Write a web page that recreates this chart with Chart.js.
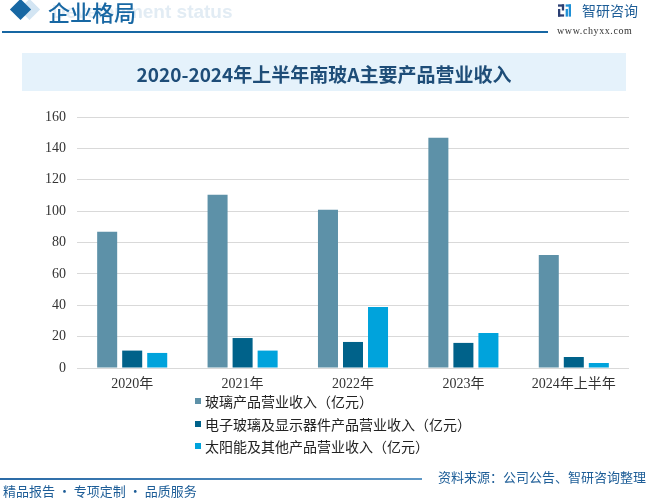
<!DOCTYPE html>
<html>
<head>
<meta charset="utf-8">
<script src="https://cdn.jsdelivr.net/npm/chart.js@4"></script>
<style>
  html, body { margin: 0; padding: 0; background: #fff; }
  body { width: 648px; height: 499px; position: relative; overflow: hidden; font-family: "Noto Sans CJK SC", sans-serif; }
  #chart { position: absolute; left: 0; top: 0; }
  .abs { position: absolute; white-space: nowrap; }
  #ghost { left: 52px; top: 1px; font: bold 19px "Liberation Sans", Arial, sans-serif; color: #e2ecf4; }
  #head { left: 48px; top: -5px; font-size: 22px; font-weight: 500; color: #1767a3; }
  #diamond { left: 13px; top: 2px; width: 15px; height: 15px; background: #1767a3; transform: rotate(45deg); }
  #diamond2 { left: 22px; top: 2px; width: 15px; height: 15px; background: #d3e5f3; transform: rotate(45deg); }
  #headline { left: 2px; top: 31px; width: 546px; height: 2px; background: #1767a3; }
  #logoText { left: 582px; top: 0px; font-size: 14px; color: #1d5d97; }
  #www { left: 557px; top: 25px; font: 10px "Liberation Serif", serif; color: #333; letter-spacing: 0.6px; }
  #titleBox { left: 22px; top: 53px; width: 604px; height: 38px; background: #e5f2fb; }
  #title { left: 0; width: 648px; top: 60px; text-align: center; font-size: 19px; font-weight: bold; color: #1e4d78; }
  #legend { left: 195px; top: 391px; font-size: 14px; color: #222; }
  .item { height: 22.5px; line-height: 20px; }
  .sw { display: inline-block; width: 6px; height: 6px; margin-right: 4px; vertical-align: 3px; }
  #footline { left: 0; top: 478px; width: 422px; height: 2px; background: linear-gradient(to right, #2a6aa6, #5f98c6); }
  #source { right: 2px; top: 467px; font-size: 13px; color: #1d5d97; }
  #slogan { left: 3px; top: 481px; font-size: 13px; color: #1d5d97; }
</style>
</head>
<body>
<canvas id="chart" width="648" height="499"></canvas>

<div class="abs" id="ghost">Development status</div>
<div class="abs" id="diamond2"></div>
<div class="abs" id="diamond"></div>
<div class="abs" id="head">企业格局</div>
<div class="abs" id="headline"></div>
<svg class="abs" style="left:558px;top:4px" width="13" height="13" viewBox="0 0 17 16">
  <rect x="0" y="0" width="8" height="3" fill="#2b3f73"/>
  <rect x="5" y="0" width="3" height="8" fill="#2b3f73"/>
  <rect x="0" y="6" width="3" height="10" fill="#2b3f73"/>
  <rect x="0" y="13" width="8" height="3" fill="#2b3f73"/>
  <rect x="10" y="0" width="7" height="3" fill="#1e90d6"/>
  <rect x="14" y="0" width="3" height="16" fill="#1e90d6"/>
  <rect x="10" y="6" width="3" height="10" fill="#1e90d6"/>
</svg>
<div class="abs" id="logoText">智研咨询</div>
<div class="abs" id="www">www.chyxx.com</div>

<div class="abs" id="titleBox"></div>
<div class="abs" id="title">2020-2024年上半年南玻A主要产品营业收入</div>

<div class="abs" id="legend"></div>

<div class="abs" id="footline"></div>
<div class="abs" id="source">资料来源：公司公告、智研咨询整理</div>
<div class="abs" id="slogan">精品报告 · 专项定制 · 品质服务</div>

<script>
// categories and series (亿元)
const years = ["2020年", "2021年", "2022年", "2023年", "2024年上半年"];
const seriesNames = [
  "玻璃产品营业收入（亿元）",
  "电子玻璃及显示器件产品营业收入（亿元）",
  "太阳能及其他产品营业收入（亿元）"
];
const glassRevenue = [86.8, 110.4, 100.8, 146.8, 72.1];
const electronicRevenue = [11.1, 19.1, 16.6, 16.0, 7.0];
const solarRevenue = [9.6, 11.1, 38.9, 22.3, 3.2];
const seriesColors = ["#5d91a8", "#00628a", "#00a3dc"];
const yTicks = [0, 20, 40, 60, 80, 100, 120, 140, 160];

const seriesValues = [glassRevenue, electronicRevenue, solarRevenue];

const datasets = seriesNames.map((name, i) => ({
  label: name,
  data: seriesValues[i],
  backgroundColor: seriesColors[i],
  categoryPercentage: 0.68,
  barPercentage: 0.8
}));

new Chart(document.getElementById("chart"), {
  type: "bar",
  data: { labels: years, datasets },
  options: {
    responsive: false,
    animation: false,
    layout: { padding: { top: 117, right: 19, bottom: 99, left: 0 } },
    plugins: {
      legend: { display: false },
      tooltip: { enabled: false }
    },
    scales: {
      x: {
        grid: { display: false, drawTicks: false },
        border: { display: false },
        ticks: {
          padding: 8,
          color: "#333",
          font: { family: "'Liberation Serif', 'Noto Sans CJK SC'", size: 14 }
        },
        afterFit: s => { s.height = 32; }
      },
      y: {
        min: 0,
        max: 160,
        afterBuildTicks: s => { s.ticks = yTicks.map(v => ({ value: v })); },
        grid: { color: "#d9d9d9", lineWidth: 1, drawTicks: false },
        border: { display: false },
        ticks: {
          padding: 11,
          color: "#333",
          font: { family: "'Liberation Serif', serif", size: 14 }
        },
        afterFit: s => { s.width = 77; }
      }
    }
  }
});

// legend
const legend = document.getElementById("legend");
seriesNames.forEach((name, i) => {
  const row = document.createElement("div");
  row.className = "item";
  const sw = document.createElement("span");
  sw.className = "sw";
  sw.style.background = seriesColors[i];
  row.appendChild(sw);
  row.appendChild(document.createTextNode(name));
  legend.appendChild(row);
});
</script>
</body>
</html>
